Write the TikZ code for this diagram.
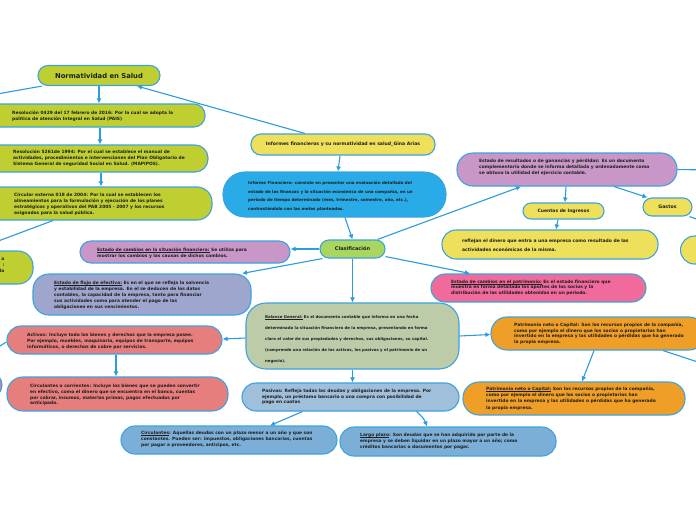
\documentclass[tikz,border=0pt]{standalone}
\usepackage{fontspec}
\setmainfont{DejaVu Sans}
\usetikzlibrary{arrows.meta}
\newcommand\myul[1]{\setbox0\hbox{#1}\rlap{\rule[-0.9pt]{\wd0}{0.35pt}}\box0\relax}
\definecolor{edge}{HTML}{3CA3E0}
\definecolor{lnk}{HTML}{2B9CE0}
\definecolor{ygreen}{HTML}{BFCF31}
\definecolor{yel}{HTML}{EEE05A}
\definecolor{cyanb}{HTML}{29ABE8}
\definecolor{grn}{HTML}{A9D65E}
\definecolor{purp}{HTML}{C996C8}
\definecolor{lav}{HTML}{9EA6CE}
\definecolor{pinkc}{HTML}{F06B9C}
\definecolor{sage}{HTML}{BCCBA8}
\definecolor{salm}{HTML}{E67E7E}
\definecolor{orng}{HTML}{EF9F28}
\definecolor{steel}{HTML}{9FBFDB}
\definecolor{mblue}{HTML}{7CAFD7}
\definecolor{txtc}{HTML}{1E1E1E}
\tikzset{
  bx/.style={draw=edge, line width=1.1pt, rounded corners=#1, inner sep=0pt, text=txtc},
  bx/.default=12pt,
  tx/.style={align=left, inner sep=0pt, anchor=base west, text=txtc,
    font=\bfseries\fontsize{4.4pt}{6pt}\selectfont},
  con/.style={draw=lnk, line width=1.1pt, -{Latex[length=5pt,width=5pt]}},
  ln/.style={draw=lnk, line width=1.1pt},
}
\begin{document}
\begin{tikzpicture}[x=1pt,y=-1pt]
\useasboundingbox (0,0) rectangle (696,520);
\clip (0,0) rectangle (696,520);
\fill[white] (0,0) rectangle (696,520);

% ---------- boxes ----------
\node[bx=10pt, fill=ygreen, minimum width=122pt, minimum height=20pt,
      font=\bfseries\fontsize{6.8pt}{8pt}\selectfont] (norm) at (99,75.5) {Normatividad en Salud};
\node[bx=11pt, fill=ygreen, minimum width=225pt, minimum height=23pt] (res1) at (92.5,115.5) {};
\node[bx=13pt, fill=ygreen, minimum width=228pt, minimum height=27pt] (res2) at (94,158.5) {};
\node[bx=15pt, fill=ygreen, minimum width=232pt, minimum height=33pt] (circ) at (96,203.5) {};
\node[bx=15pt, fill=ygreen, minimum width=146pt, minimum height=33pt] (lp1) at (-40,267.5) {};

\node[bx=10pt, fill=yel, minimum width=184pt, minimum height=21pt,
      font=\bfseries\fontsize{4.6pt}{6pt}\selectfont] (info) at (343,144.5) {Informes financieros y su normatividad en salud\_Gina Arias};
\node[bx=22pt, fill=cyanb, minimum width=223pt, minimum height=45pt] (infofin) at (334.5,194.5) {};
\node[bx=9pt, fill=grn, minimum width=65pt, minimum height=18pt,
      font=\bfseries\fontsize{5pt}{6pt}\selectfont] (clasif) at (352.5,249) {Clasificación};
\node[bx=11pt, fill=purp, minimum width=210pt, minimum height=22pt] (estsit) at (185,252) {};
\node[bx=16pt, fill=lav, minimum width=218pt, minimum height=41pt] (flujo) at (142,294.5) {};
\node[bx=16pt, fill=purp, minimum width=220pt, minimum height=33pt] (result) at (567,169.5) {};
\node[bx=8pt, fill=yel, minimum width=81pt, minimum height=16pt,
      font=\bfseries\fontsize{4.5pt}{6pt}\selectfont] (cuentas) at (563.5,211) {Cuentas de Ingresos};
\node[bx=9pt, fill=yel, minimum width=49pt, minimum height=18pt,
      font=\bfseries\fontsize{4.7pt}{6pt}\selectfont] (gastos) at (667.5,207) {Gastos};
\node[bx=14pt, fill=yel, minimum width=216pt, minimum height=29pt] (refl) at (550,244.5) {};
\node[bx=14pt, fill=yel, minimum width=79pt, minimum height=28pt] (rp1) at (720,250) {};
\node[bx=14pt, fill=pinkc, minimum width=215pt, minimum height=28pt] (patcam) at (538.5,288) {};
\node[bx=20pt, fill=sage, minimum width=213pt, minimum height=66pt] (bal) at (352.5,336) {};
\node[bx=14pt, fill=salm, minimum width=215pt, minimum height=28pt] (act) at (114.5,340) {};
\node[bx=16pt, fill=salm, minimum width=221pt, minimum height=34pt] (cor) at (117.5,394) {};
\node[bx=13pt, fill=salm, minimum width=62pt, minimum height=26pt] (lp2) at (-29,385) {};
\node[bx=16pt, fill=orng, minimum width=214pt, minimum height=33pt] (pat1) at (598,333.5) {};
\node[bx=16pt, fill=orng, minimum width=222pt, minimum height=33pt] (pat2) at (574,398.5) {};
\node[bx=14pt, fill=steel, minimum width=217pt, minimum height=28pt] (pas) at (350.5,397) {};
\node[bx=14pt, fill=mblue, minimum width=216pt, minimum height=28pt] (cd) at (229,440) {};
\node[bx=14pt, fill=mblue, minimum width=216pt, minimum height=29pt] (lpz) at (448,441.5) {};

% ---------- texts (placed at the baseline of their last line) ----------
\node[tx] (res1t) at (12,120.5) {Resolución 0429 del 17 febrero de 2016: Por la cual se adopta la\\política de atención Integral en Salud (PAIS)};
\node[tx] (res2t) at (13,165.5) {Resolución 5261de 1994: Por el cual se establece el manual de\\actividades, procedimientos e intervenciones del Plan Obligatorio de\\Sistema General de seguridad Social en Salud. (MAPIPOS).};
\node[tx, font=\bfseries\fontsize{4.4pt}{5.9pt}\selectfont] (circt) at (14,214.2) {Circular externa 018 de 2004: Por la cual se establecen los\\alineamientos para la formulación y ejecución de los planes\\estratégicos y operativos del PAB 2005 - 2007 y los recursos\\asignados para la salud pública.};
\node[tx, anchor=base east, align=right] (lp1t) at (4.5,272.5) {a\\:\\da};
\node[tx, font=\bfseries\fontsize{4.05pt}{8.7pt}\selectfont] (infofint) at (248,210.6) {Informe Financiero: consiste en presentar una evaluación detallada del\\estado de las finanzas y la situación económica de una compañía, en un\\periodo de tiempo determinado (mes, trimestre, semestre, año, etc.),\\contrastándolo con las metas planteadas.};
\node[tx] (estsitt) at (97,257) {\myul{Estado de cambios en la situación financiera:} Se utiliza para\\mostrar los cambios y las causas de dichos cambios.};
\node[tx] (flujot) at (54,308) {\myul{Estado de flujo de efectivo:} Es en el que se refleja la solvencia\\y estabilidad de la empresa. En el se deducen de los datos\\contables, la capacidad de la empresa, tanto para financiar\\sus actividades como para atender el pago de las\\obligaciones en sus vencimientos.};
\node[tx] (resultt) at (479,174) {Estado de resultados o de ganancias y pérdidas: Es un documento\\complementario donde se informa detallada y ordenadamente como\\se obtuvo la utilidad del ejercicio contable.};
\node[tx, font=\bfseries\fontsize{4.5pt}{8.5pt}\selectfont] (reflt) at (462,251) {reflejan el dinero que entra a una empresa como resultado de las\\actividades económicas de la misma.};
\node[tx, font=\bfseries\fontsize{4.4pt}{5.8pt}\selectfont] (patcamt) at (451,294.6) {\myul{Estado de cambios en el patrimonio:} Es el estado financiero que\\muestra en forma detallada los aportes de los socios y la\\distribución de las utilidades obtenidas en un periodo.};
\node[tx, font=\bfseries\fontsize{3.9pt}{11pt}\selectfont] (balt) at (265,362.5) {\myul{Balance General:} Es el documento contable que informa en una fecha\\determinada la situación financiera de la empresa, presentando en forma\\clara el valor de sus propiedades y derechos, sus obligaciones, su capital.\\(comprende una relación de los activos, los pasivos y el patrimonio de un\\negocio).};
\node[tx] (actt) at (27,348.5) {Activos: Incluye todo los bienes y derechos que la empresa posee.\\Por ejemplo, muebles, maquinaria, equipos de transporte, equipos\\informáticos, o derechos de cobre por servicios.};
\node[tx, font=\bfseries\fontsize{4.4pt}{5.8pt}\selectfont] (cort) at (30,404.9) {Circulantes o corrientes: Incluye los bienes que se pueden convertir\\en efectivo, como el dinero que se encuentra en el banco, cuentas\\por cobrar, insumos, materias primas, pagos efectuados por\\anticipado.};
\node[tx, font=\bfseries\fontsize{4.4pt}{5.7pt}\selectfont] (pat1t) at (514,343.6) {Patrimonio neto o Capital: Son los recursos propios de la compañía,\\como por ejemplo el dinero que los socios o propietarios han\\invertido en la empresa y las utilidades o pérdidas que ha generado\\la propia empresa.};
\node[tx, font=\bfseries\fontsize{4.4pt}{6.2pt}\selectfont] (pat2t) at (486,409.1) {\myul{Patrimonio neto o Capital:} Son los recursos propios de la compañía,\\como por ejemplo el dinero que los socios o propietarios han\\invertido en la empresa y las utilidades o pérdidas que ha generado\\la propia empresa.};
\node[tx, font=\bfseries\fontsize{4.4pt}{5.5pt}\selectfont] (past) at (262,403.5) {Pasivos: Refleja todas las deudas y obligaciones de la empresa. Por\\ejemplo, un préstamo bancario o una compra con posibilidad de\\pago en cuotas};
\node[tx] (cdt) at (141,446.5) {\myul{Circulantes}: Aquellas deudas con un plazo menor a un año y que son\\constantes. Pueden ser: impuestos, obligaciones bancarias, cuentas\\por pagar a proveedores, anticipos, etc.};
\node[tx] (lpzt) at (360,448) {\myul{Largo plazo}: Son deudas que se han adquirido por parte de la\\empresa y se deben liquidar en un plazo mayor a un año; como\\créditos bancarios o documentos por pagar.};

% ---------- free ends ----------
\coordinate (offnorm) at (-14,96);
\coordinate (offres) at (710,170);
\coordinate (offgas) at (710,224);
\coordinate (offact) at (-10,352);
\coordinate (offpat) at (710,366);

% ---------- connectors ----------
\draw[con] ([xshift=-57pt]norm.south) -- (offnorm);
\draw[con] (norm.south) -- (norm.south |- res1.north);
\draw[con] ([xshift=7.5pt]res1.south) -- ([xshift=7.5pt]res1.south |- res2.north);
\draw[con] ([xshift=7pt]res2.south) -- ([xshift=7pt]res2.south |- circ.north);
\draw[con] ([xshift=-43pt]circ.south) -- ([xshift=13pt]lp1.north);
\draw[con] ([xshift=-38pt]info.north) -- ([xshift=38pt]norm.south);
\draw[con] ([xshift=-3pt]info.south) -- ([xshift=3.5pt]infofin.north);
\draw[con] ([xshift=10.5pt]infofin.south) -- (clasif.north);
\draw[con] (clasif.west) -- (clasif.west -| estsit.east);
\draw[con] ([xshift=-30pt]clasif.south) -- ([xshift=100pt]flujo.north);
\draw[con] ([xshift=25pt]clasif.north) -- ([xshift=-46pt]result.south);
\draw[con] ([yshift=2pt]clasif.south east) -- ([xshift=-68.5pt]patcam.north);
\draw[con] (clasif.south) -- (clasif.south |- bal.north);
\draw[con] (result.east) -- (offres);
\draw[con] ([xshift=-1pt]result.south) -- ([xshift=1.5pt]cuentas.north);
\draw[con] ([xshift=47pt]result.south) -- ([xshift=-20pt]gastos.north);
\draw[con] ([xshift=-5.5pt]cuentas.south) -- ([xshift=6pt]refl.north);
\draw[con] ([xshift=22pt]gastos.south) -- (offgas);
\draw[con] ([yshift=-2pt]bal.west) -- ([yshift=1pt]act.east);
\draw[con] (bal.east) -- ([yshift=-1pt]pat1.west);
\draw[con] (bal.south) -- (bal.south |- pas.north);
\draw[con] ([xshift=1.5pt]act.south) -- ([xshift=1.5pt]act.south |- cor.north);
\draw[con] ([yshift=-2pt]act.west) -- (offact);
\draw[con] ([xshift=-4pt]pat1.south) -- ([xshift=8pt]pat2.north);
\draw[con] ([xshift=65pt]pat1.south) -- (offpat);
\draw[con] ([xshift=-48pt]pas.south) -- ([xshift=41pt]cd.north);
\draw[con] ([xshift=66pt]pas.south) to[bend left=15] ([xshift=-21pt]lpz.north);
\end{tikzpicture}
\end{document}
